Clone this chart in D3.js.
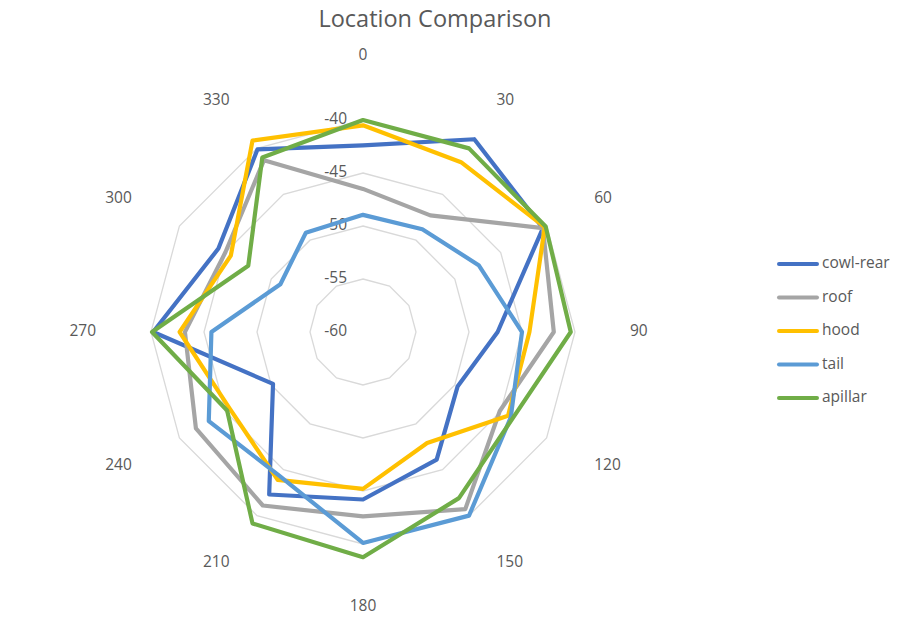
<!DOCTYPE html>
<html>
    <head>
        <meta charset="utf-8" />
        <title>Location Comparison</title>
        <script src="https://d3js.org/d3.v7.min.js"></script>
        <style>
            body {
                margin: 0;
                background: #fff;
            }
            text {
                font-family: 'Open Sans', sans-serif;
                fill: #595959;
            }
            .ring {
                fill: none;
                stroke: #d9d9d9;
                stroke-width: 1.3px;
            }
            .series {
                fill: none;
                stroke-width: 4.2px;
                stroke-linejoin: round;
            }
        </style>
    </head>
    <body>
        <script>
            const angles = ['0', '30', '60', '90', '120', '150', '180', '210', '240', '270', '300', '330'];
            const ringTicks = [-60, -55, -50, -45, -40];

            const cowlRear = [-42.4, -39.0, -40.4, -47.3, -49.7, -46.1, -44.2, -42.3, -50.2, -40.2, -44.25, -40.1];
            const roof = [-46.5, -47.3, -40.4, -42.0, -45.1, -40.7, -42.6, -41.1, -41.8, -43.2, -45.0, -41.3];
            const hood = [-40.5, -41.5, -40.2, -44.3, -44.2, -47.9, -45.2, -43.9, -45.5, -42.7, -45.6, -39.15];
            const tail = [-48.95, -48.8, -47.4, -45.0, -43.9, -40.0, -40.1, -44.3, -43.2, -45.7, -51.0, -49.2];
            const apillar = [-40.0, -40.0, -40.1, -40.4, -43.7, -41.9, -38.75, -39.15, -45.2, -40.1, -47.5, -41.0];

            const seriesNames = ['cowl-rear', 'roof', 'hood', 'tail', 'apillar'];
            const seriesValues = [cowlRear, roof, hood, tail, apillar];
            const colors = ['#4472C4', '#A5A5A5', '#FFC000', '#5B9BD5', '#70AD47'];

            const width = 897,
                height = 621,
                cx = 363,
                cy = 332,
                radius = 212;

            const svg = d3.select('body').append('svg').attr('width', width).attr('height', height);

            svg.append('text')
                .attr('x', 435)
                .attr('y', 21)
                .attr('text-anchor', 'middle')
                .attr('dominant-baseline', 'middle')
                .style('font-size', '23.5px')
                .text('Location Comparison');

            const r = d3.scaleLinear().domain([-60, -40]).range([0, radius]);
            const step = (2 * Math.PI) / angles.length;
            const angleOf = (i) => i * step;

            const g = svg.append('g').attr('transform', `translate(${cx},${cy})`);

            const radial = d3
                .lineRadial()
                .angle((d, i) => angleOf(i))
                .radius((d) => r(d))
                .curve(d3.curveLinearClosed);

            // grid rings
            ringTicks.slice(1).forEach((t) => {
                g.append('path')
                    .attr('class', 'ring')
                    .attr('d', radial(angles.map(() => t)));
            });

            // ring labels
            ringTicks.forEach((t) => {
                g.append('text')
                    .attr('x', -16)
                    .attr('y', -r(t))
                    .attr('text-anchor', 'end')
                    .attr('dominant-baseline', 'middle')
                    .style('font-size', '15.5px')
                    .text(t);
            });

            // category labels
            const labelR = 267;
            angles.forEach((lab, i) => {
                const th = angleOf(i);
                const s = Math.sin(th),
                    c = Math.cos(th);
                let x = labelR * s,
                    y = -labelR * c,
                    anchor = 'middle';
                if (Math.abs(s) < 0.01) {
                    y += c > 0 ? -9 : 8;
                } else {
                    anchor = s > 0 ? 'start' : 'end';
                }
                g.append('text')
                    .attr('x', x)
                    .attr('y', y)
                    .attr('text-anchor', anchor)
                    .attr('dominant-baseline', 'middle')
                    .style('font-size', '15.5px')
                    .text(lab);
            });

            // series
            seriesValues.forEach((vals, k) => {
                g.append('path')
                    .attr('class', 'series')
                    .style('stroke', colors[k])
                    .attr('d', radial(vals));
            });

            // legend
            const legend = svg.append('g').attr('transform', 'translate(777,264)');
            seriesNames.forEach((name, k) => {
                const row = legend.append('g').attr('transform', `translate(0,${k * 33.5})`);
                row.append('line')
                    .attr('x1', 2)
                    .attr('x2', 40)
                    .attr('y1', 0)
                    .attr('y2', 0)
                    .style('stroke', colors[k])
                    .style('stroke-width', 4)
                    .style('stroke-linecap', 'round');
                row.append('text')
                    .attr('x', 45)
                    .attr('y', 0)
                    .attr('dominant-baseline', 'middle')
                    .style('font-size', '15.5px')
                    .text(name);
            });
        </script>
    </body>
</html>
